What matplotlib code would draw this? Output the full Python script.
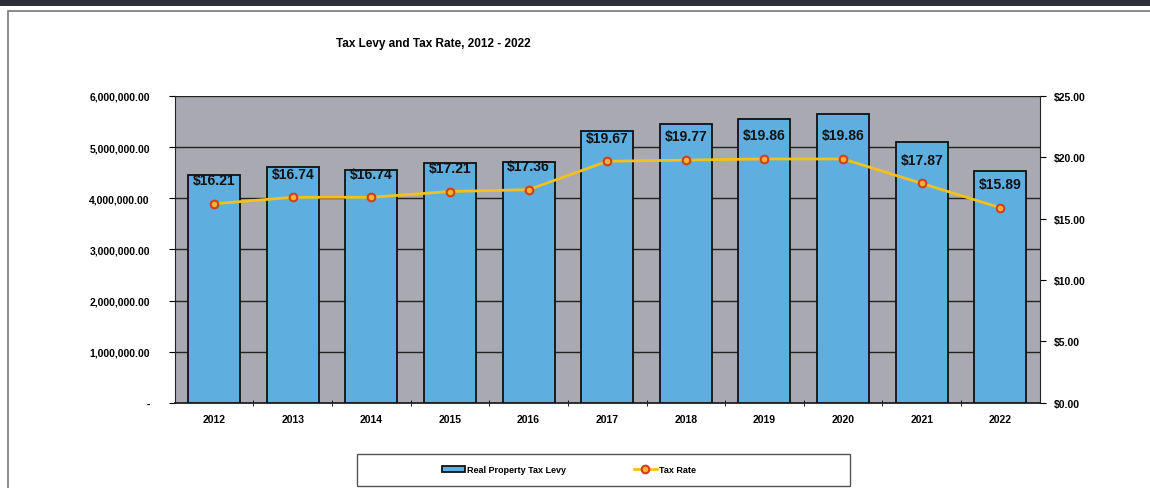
import matplotlib.pyplot as plt
from matplotlib.patches import Rectangle
from matplotlib.ticker import FuncFormatter

# ---------------------------------------------------------------
# Data
# ---------------------------------------------------------------
years = ["2012", "2013", "2014", "2015", "2016", "2017",
         "2018", "2019", "2020", "2021", "2022"]
tax_levy = [4450000, 4610000, 4550000, 4680000, 4700000, 5320000,
            5450000, 5550000, 5650000, 5100000, 4530000]
tax_rate = [16.21, 16.74, 16.74, 17.21, 17.36, 19.67,
            19.77, 19.86, 19.86, 17.87, 15.89]
rate_labels = ["$16.21", "$16.74", "$16.74", "$17.21", "$17.36", "$19.67",
               "$19.77", "$19.86", "$19.86", "$17.87", "$15.89"]

plt.rcParams["font.family"] = ["Liberation Sans", "DejaVu Sans"]

fig = plt.figure(figsize=(11.5, 4.89), dpi=100)

# outer frame and dark scan strip at the top
fig.patches.append(Rectangle((0, 0.985), 1, 0.015, transform=fig.transFigure,
                             facecolor="#2b3038", edgecolor="none", zorder=0))
fig.patches.append(Rectangle((0.007, -0.05), 1.0, 1.025, transform=fig.transFigure,
                             facecolor="none", edgecolor="#777777", linewidth=1.2))

ax = fig.add_axes([0.152, 0.174, 0.752, 0.628])
ax.set_facecolor("#a9a9b2")

x = list(range(len(years)))

# Step 1 : bars (levy)
ax.bar(x, tax_levy, width=0.66, color="#5eaee0", edgecolor="#111111",
       linewidth=1.3, zorder=3, label="Real Property Tax Levy")
ax.set_xlim(-0.5, len(years) - 0.5)
ax.set_ylim(0, 6000000)
ax.set_yticks(range(0, 6000001, 1000000))
ax.yaxis.set_major_formatter(FuncFormatter(lambda v, p: "-" if v == 0 else f"{v:,.2f}"))
ax.grid(axis="y", color="#222222", linewidth=1.0, zorder=1)
ax.set_xticks(x)
ax.set_xticklabels(years)
ax.tick_params(axis="x", length=0, pad=8, labelsize=7.5)
ax.tick_params(axis="y", length=4, labelsize=7.5, pad=14)
for lbl in ax.get_xticklabels() + ax.get_yticklabels():
    lbl.set_fontweight("bold")
ax.set_xticks([i + 0.5 for i in x[:-1]], minor=True)
ax.tick_params(axis="x", which="minor", length=4, direction="inout")

for side in ["top", "right"]:
    ax.spines[side].set_visible(False)
ax.spines["left"].set_color("#222222")
ax.spines["bottom"].set_color("#222222")
ax.spines["bottom"].set_linewidth(1.3)

# Step 2 : line (rate) on second axis
ax2 = ax.twinx()
ax2.plot(x, tax_rate, color="#f2c21a", linewidth=2, marker="o",
         markersize=5.5, markerfacecolor="#f7b234", markeredgecolor="#d1401a",
         markeredgewidth=1.5, zorder=5, label="Tax Rate")
ax2.set_ylim(0, 25)
ax2.set_yticks(range(0, 26, 5))
ax2.yaxis.set_major_formatter(FuncFormatter(lambda v, p: f"${v:.2f}"))
ax2.tick_params(axis="y", length=4, labelsize=7.5, pad=6)
for lbl in ax2.get_yticklabels():
    lbl.set_fontweight("bold")
for side in ["top", "left", "bottom"]:
    ax2.spines[side].set_visible(False)
ax2.spines["right"].set_color("#222222")

for xi, r, t in zip(x, tax_rate, rate_labels):
    ax2.annotate(t, (xi, r), xytext=(0, 12), textcoords="offset points",
                 ha="center", va="bottom", fontsize=10, fontweight="bold",
                 color="#111111", zorder=6)

# Step 3 : title and legend
fig.text(0.292, 0.91, "Tax Levy and Tax Rate, 2012 - 2022", fontsize=8.5,
         fontweight="bold", ha="left", va="center")

# legend box drawn separately (wider than its entries, as in the original)
fig.patches.append(Rectangle((0.310, 0.004), 0.429, 0.066, transform=fig.transFigure,
                             facecolor="white", edgecolor="#555555", linewidth=1.0))

h1, l1 = ax.get_legend_handles_labels()
h2, l2 = ax2.get_legend_handles_labels()
leg = fig.legend(h1 + h2, l1 + l2, loc="center", bbox_to_anchor=(0.495, 0.037),
                 ncol=2, fontsize=6.5, frameon=False, columnspacing=7.5,
                 handlelength=2.5, handletextpad=0.3, borderaxespad=0)
for t in leg.get_texts():
    t.set_fontweight("bold")

fig.savefig("out.png", dpi=100)
